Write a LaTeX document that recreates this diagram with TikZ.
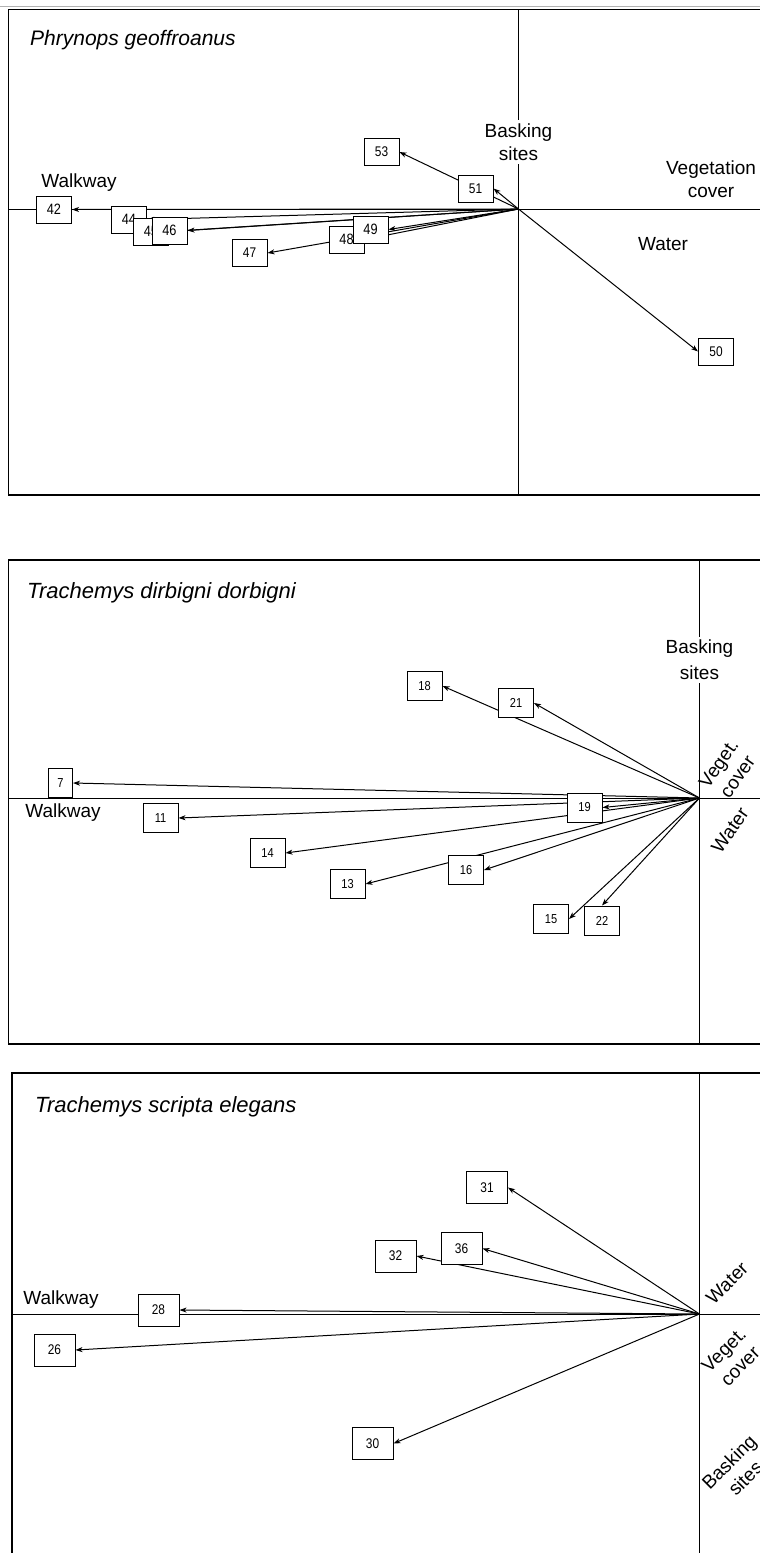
\documentclass[tikz,border=0pt]{standalone}
\usepackage{fontspec}
\setmainfont{Liberation Sans}
\newfontfamily\numfont[FakeStretch=0.85]{Liberation Sans}
\usepackage{tikz}
\usetikzlibrary{arrows.meta,positioning,backgrounds}
\tikzstyle{frame} = [line width=1.1pt]
\tikzstyle{axis} = [line width=0.9pt]
\tikzstyle{site} = [draw, fill=white, rectangle, line width=1pt, inner sep=0pt,
    minimum width=35pt, minimum height=27pt, font=\numfont\fontsize{14}{14}\selectfont]
\tikzstyle{vector} = [->, line width=1pt]
\tikzstyle{factor} = [align=center, font=\fontsize{19}{23}\selectfont]
\tikzstyle{species} = [anchor=west, inner sep=0pt, font=\itshape\fontsize{22}{26}\selectfont]

\begin{document}
\begin{tikzpicture}[x=1pt, y=-1pt, >={Stealth[length=7pt,width=5pt,inset=2pt]}]
    \useasboundingbox (0,0) rectangle (760,1553);

    % Phrynops geoffroanus
    \draw [gray!60, line width=1pt] (0,6) -- (760,6);
    \draw [frame] (760,9.5) -- (8.5,9.5) -- (8.5,495) -- (760,495);
    \draw [axis] (518.5,9.5) -- (518.5,495);
    \draw [axis] (8.5,209) -- (760,209);
    \coordinate (o1) at (518.5,209);
    \node [species, font=\itshape\fontsize{21}{25}\selectfont] (t1) at (30,40) {Phrynops geoffroanus};
    \node [factor, fill=white] (bask1) at (518.5,142) {Basking\\sites};
    \node [factor] (veg1) at (711,179) {Vegetation\\cover};
    \node [factor] (wat1) at (663,244) {Water};
    \node [factor] (walk1) at (79,183) {Walkway};
    \node [site, font=\numfont\fontsize{15}{15}\selectfont] (s42) at (54,209.5) {42};
    \node [site, font=\numfont\fontsize{15}{15}\selectfont] (s44) at (129,219.5) {44};
    \node [site, font=\numfont\fontsize{15}{15}\selectfont] (s45) at (151,231.5) {45};
    \node [site, font=\numfont\fontsize{15}{15}\selectfont] (s46) at (169.5,230.5) {46};
    \node [site] (s47) at (249.5,253) {47};
    \node [site, font=\numfont\fontsize{15}{15}\selectfont] (s48) at (346.5,239.5) {48};
    \node [site, font=\numfont\fontsize{15}{15}\selectfont] (s49) at (370.5,229.5) {49};
    \node [site] (s53) at (381.5,152) {53};
    \node [site] (s51) at (475.5,188.5) {51};
    \node [site] (s50) at (716,351.5) {50};
    \begin{pgfonlayer}{background}
        \foreach \s in {42,44,45,46,47,48,49,53,51}
            \draw [vector] (o1) -- (s\s.east);
        \draw [vector] (o1) -- (s50.west);
    \end{pgfonlayer}

    % Trachemys dorbigni
    \draw [frame] (760,560) -- (8.5,560) -- (8.5,1044) -- (760,1044);
    \draw [axis] (699.5,560) -- (699.5,1044);
    \draw [axis] (8.5,798) -- (760,798);
    \coordinate (o2) at (699.5,798);
    \node [species] (t2) at (27,593) {Trachemys dirbigni dorbigni};
    \node [factor, fill=white, font=\fontsize{19}{26}\selectfont] (bask2) at (699.5,660) {Basking\\sites};
    \node [factor, rotate=55] (veg2) at (728,770) {Veget.\\cover};
    \node [factor, rotate=55] (wat2) at (730,830) {Water};
    \node [factor] (walk2) at (63,813) {Walkway};
    \tikzset{site/.append style={minimum height=29pt, font=\numfont\fontsize{13}{13}\selectfont}}
    \node [site, minimum width=24pt] (s7) at (60.5,783) {7};
    \node [site] (s11) at (160.5,818) {11};
    \node [site] (s14) at (267.5,853) {14};
    \node [site] (s13) at (347.5,884) {13};
    \node [site] (s16) at (466,870) {16};
    \node [site] (s15) at (551,919) {15};
    \node [site] (s22) at (602,920.5) {22};
    \node [site] (s19) at (584.5,807.5) {19};
    \node [site] (s18) at (424.5,686) {18};
    \node [site] (s21) at (516,703) {21};
    \begin{pgfonlayer}{background}
        \foreach \s in {7,11,14,13,16,15,19,18,21}
            \draw [vector] (o2) -- (s\s.east);
        \draw [vector] (o2) -- (s22.north);
    \end{pgfonlayer}

    % Trachemys scripta elegans
    \draw [frame] (760,1073) -- (12,1073) -- (12,1553);
    \draw [axis] (699.5,1073) -- (699.5,1553);
    \draw [axis] (12,1314) -- (760,1314);
    \coordinate (o3) at (699.5,1314);
    \node [species] (t3) at (35,1107) {Trachemys scripta elegans};
    \node [factor, rotate=45] (wat3) at (727,1283) {Water};
    \node [factor, rotate=45] (veg3) at (732,1358) {Veget.\\cover};
    \node [factor, rotate=45] (bask3) at (737,1470) {Basking\\sites};
    \node [factor] (walk3) at (61,1300) {Walkway};
    \tikzset{site/.append style={minimum width=41pt, minimum height=32pt, font=\numfont\fontsize{14}{14}\selectfont}}
    \node [site] (s31) at (487,1187.5) {31};
    \node [site] (s36) at (461.5,1248.5) {36};
    \node [site] (s32) at (395.5,1256) {32};
    \node [site] (s28) at (158.5,1310) {28};
    \node [site] (s26) at (54.5,1350) {26};
    \node [site] (s30) at (372.5,1443.5) {30};
    \begin{pgfonlayer}{background}
        \foreach \s in {31,36,32,28,26,30}
            \draw [vector] (o3) -- (s\s.east);
    \end{pgfonlayer}
\end{tikzpicture}
\end{document}
